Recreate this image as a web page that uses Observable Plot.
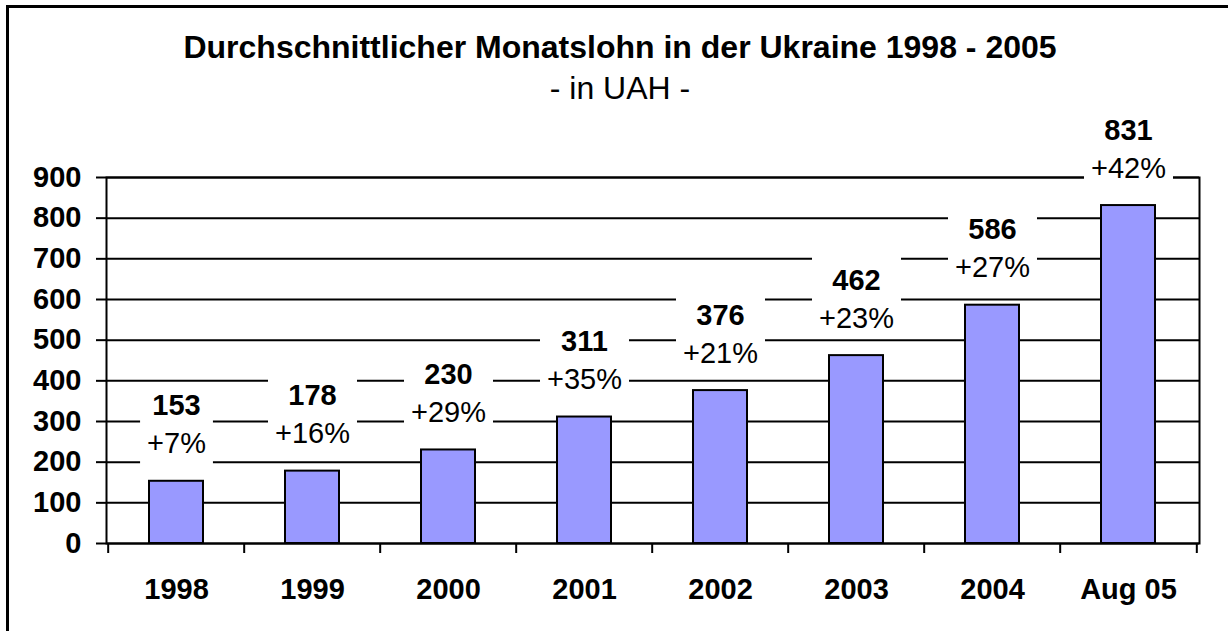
<!DOCTYPE html>
<html>
<head>
<meta charset="utf-8">
<script src="https://cdn.jsdelivr.net/npm/d3@7"></script>
<script src="https://cdn.jsdelivr.net/npm/@observablehq/plot@0.6"></script>
<style>
html, body { margin: 0; padding: 0; background: #fff; }
#wrap { position: relative; width: 1228px; height: 631px; overflow: hidden; background: #fff; font-family: "Liberation Sans", Arial, sans-serif; }
#chart { position: absolute; left: 0; top: 0; }
#frame { position: absolute; left: 6px; top: 5px; width: 1300px; height: 700px; border-left: 3px solid #000; border-top: 3px solid #000; }
.title { position: absolute; left: 620px; transform: translateX(-50%); white-space: nowrap; font-size: 32px; line-height: 32px; color: #000; }
#t1 { top: 31px; font-weight: bold; }
#t2 { top: 72px; font-weight: normal; }
</style>
</head>
<body>
<div id="wrap">
  <div id="chart"></div>
  <div id="frame"></div>
  <div class="title" id="t1">Durchschnittlicher Monatslohn in der Ukraine 1998 - 2005</div>
  <div class="title" id="t2">- in UAH -</div>
</div>
<script>
const categories = ["1998", "1999", "2000", "2001", "2002", "2003", "2004", "Aug 05"];
const wages = [153, 178, 230, 311, 376, 462, 586, 831];
const growth = ["+7%", "+16%", "+29%", "+35%", "+21%", "+23%", "+27%", "+42%"];
const yTicks = [0, 100, 200, 300, 400, 500, 600, 700, 800, 900];

const data = categories.map((c, i) => ({cat: c, wage: wages[i], growth: growth[i]}));

const W = 1228, H = 631;
const mL = 106, mR = 29, mT = 177, mB = 88;
const innerW = W - mL - mR, innerH = H - mT - mB;
const step = innerW / categories.length;
const FONT = "Liberation Sans, Arial, sans-serif";

const plot = Plot.plot({
  width: W,
  height: H,
  marginLeft: mL,
  marginRight: mR,
  marginTop: mT,
  marginBottom: mB,
  style: {background: "transparent", fontFamily: FONT, fontSize: "29px", color: "#000", overflow: "visible"},
  x: {type: "band", domain: categories, paddingInner: 0.6, paddingOuter: 0.3, label: null},
  y: {domain: [0, 900], label: null},
  marks: [
    Plot.ruleY(yTicks, {y: d => d, stroke: "#000", strokeWidth: 2}),
    Plot.frame({stroke: "#000", strokeWidth: 2}),
    Plot.barY(data, {x: "cat", y: "wage", fill: "#9999FF", stroke: "#000", strokeWidth: 2}),
    Plot.ruleX(categories, {x: d => d, dx: -step / 2, insetTop: innerH, insetBottom: -10, stroke: "#000", strokeWidth: 2}),
    Plot.ruleX([categories[categories.length - 1]], {x: d => d, dx: step / 2, insetTop: innerH, insetBottom: -10, stroke: "#000", strokeWidth: 2}),
    Plot.axisY(yTicks, {label: null, tickSize: 10, tickPadding: 15, strokeWidth: 2, stroke: "#000", fill: "#000", fontSize: 29, fontWeight: "bold", tickFormat: d => String(d)}),
    Plot.axisX({label: null, tickSize: 0, tickPadding: 35, fill: "#000", fontSize: 29, fontWeight: "bold"}),
    Plot.text(data, {x: "cat", y: "wage", text: d => String(d.wage), dy: -66, lineAnchor: "bottom", fontSize: 29, fontWeight: "bold", fill: "#000", ariaDescription: "value-label"}),
    Plot.text(data, {x: "cat", y: "wage", text: "growth", dy: -28, lineAnchor: "bottom", fontSize: 29, fontWeight: "normal", fill: "#000", ariaDescription: "pct-label"})
  ]
});

document.getElementById("chart").appendChild(plot);

// white label boxes behind the data labels (sized from the rendered text)
const svg = plot;
let valG = svg.querySelector('g[aria-description="value-label"]');
let pctG = svg.querySelector('g[aria-description="pct-label"]');
if (!valG || !pctG) {
  const textGroups = Array.from(svg.querySelectorAll(':scope > g[aria-label="text"]'));
  valG = textGroups[textGroups.length - 2];
  pctG = textGroups[textGroups.length - 1];
}
if (valG && pctG) {
  const vals = valG.querySelectorAll("text");
  const pcts = pctG.querySelectorAll("text");
  const sr = svg.getBoundingClientRect();
  const ns = "http://www.w3.org/2000/svg";
  const boxes = document.createElementNS(ns, "g");
  vals.forEach((v, i) => {
    const p = pcts[i];
    const a = v.getBoundingClientRect(), b = p.getBoundingClientRect();
    const x0 = Math.min(a.left, b.left) - sr.left - 7;
    const x1 = Math.max(a.right, b.right) - sr.left + 7;
    const y0 = Math.min(a.top, b.top) - sr.top - 7;
    const y1 = Math.max(a.bottom, b.bottom) - sr.top + 5;
    const r = document.createElementNS(ns, "rect");
    r.setAttribute("x", x0);
    r.setAttribute("y", y0);
    r.setAttribute("width", x1 - x0);
    r.setAttribute("height", y1 - y0);
    r.setAttribute("fill", "#fff");
    boxes.appendChild(r);
  });
  valG.parentNode.insertBefore(boxes, valG);
}
</script>
</body>
</html>
